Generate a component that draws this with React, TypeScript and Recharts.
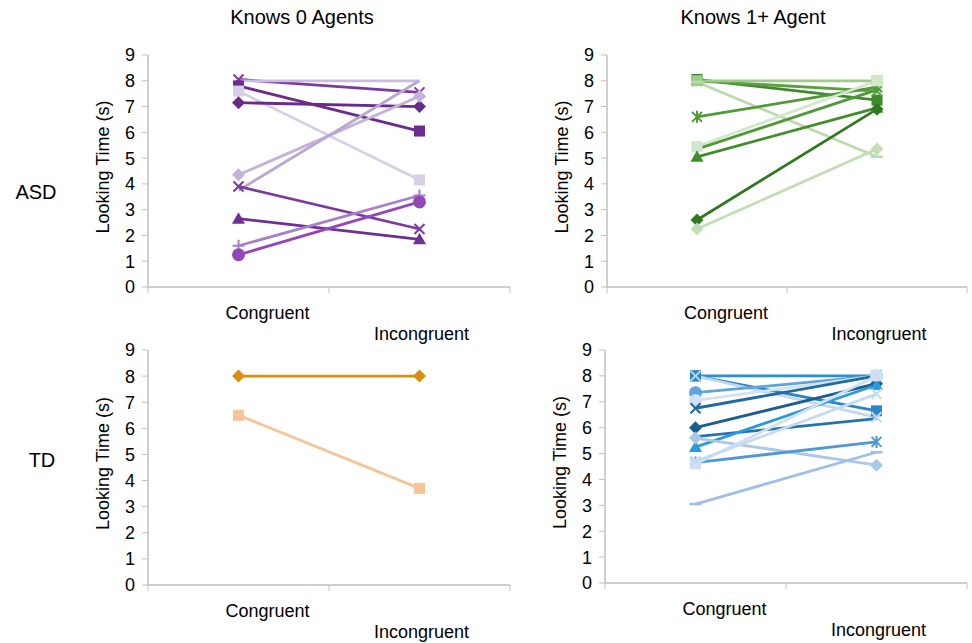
import React from "react";
import { LineChart, Line, XAxis, YAxis } from "recharts";

const categories = ["Congruent", "Incongruent"];
const yTicks = [0, 1, 2, 3, 4, 5, 6, 7, 8, 9];

// ASD, knows 0 agents
const asdZeroCongruent = [8.05, 8.0, 7.8, 7.6, 7.15, 4.35, 3.75, 3.9, 2.65, 1.6, 1.25];
const asdZeroIncongruent = [7.55, 8.0, 6.05, 4.15, 7.0, 7.4, 8.0, 2.25, 1.85, 3.55, 3.3];

// ASD, knows 1+ agent
const asdOneCongruent = [8.05, 8.0, 8.0, 7.95, 6.6, 5.45, 5.35, 5.05, 2.6, 2.25];
const asdOneIncongruent = [7.25, 7.6, 8.0, 5.05, 7.75, 8.0, 7.65, 6.95, 6.9, 5.35];

// TD, knows 0 agents
const tdZeroCongruent = [8.0, 6.5];
const tdZeroIncongruent = [8.0, 3.7];

// TD, knows 1+ agent
const tdOneCongruent = [8.0, 8.0, 8.0, 7.35, 7.05, 6.75, 6.0, 5.65, 5.25, 5.6, 4.65, 4.6, 4.7, 3.05];
const tdOneIncongruent = [8.0, 6.65, 6.4, 8.0, 8.0, 8.0, 7.7, 6.35, 7.65, 4.55, 5.45, 8.0, 7.3, 5.05];

const purpleColors = ["#7a3a9e", "#cbbcdd", "#6e2b8e", "#d8cfe6", "#6a2a8a", "#c4b2d8", "#bba6d2", "#7b3aa0", "#6f2f94", "#a87fca", "#9447b8"];
const purpleShapes = ["x", "none", "square", "square", "diamond", "diamond", "none", "x", "triangle", "plus", "circle"];

const greenColors = ["#3f8a2c", "#5aa040", "#9fcb8c", "#bcdab0", "#4e9a35", "#d3e7ca", "#4f9a36", "#3e8e2a", "#2f7a1f", "#c3deb6"];
const greenShapes = ["square", "x", "square", "dash", "star", "square", "none", "triangle", "diamond", "diamond"];

const orangeColors = ["#d98e12", "#f6c497"];
const orangeShapes = ["diamond", "square"];

const blueColors = ["#2a8fd6", "#2a86c8", "#c0d7ee", "#5ea3dc", "#d2e2f3", "#1f6a9e", "#1b5e8c", "#2473b0", "#2b9ad8", "#a9c8e9", "#4f98d6", "#cfe0f2", "#c5dbf0", "#9dc0e6"];
const blueShapes = ["square", "square", "x", "circle", "circle", "x", "diamond", "none", "triangle", "diamond", "star", "square", "x", "dash"];

const FONT = '"Liberation Sans", Arial, sans-serif';
const AXIS = "#bfbfbf";

const buildRows = (cong: number[], incong: number[]) =>
  categories.map((c, i) => {
    const row: Record<string, number | string> = { x: i + 0.5, cat: c };
    const vals = i === 0 ? cong : incong;
    vals.forEach((v, k) => {
      row[`s${k}`] = v;
    });
    return row;
  });

const Marker = (props: any) => {
  const { cx, cy, shape, color } = props;
  if (cx == null || cy == null) return <g />;
  switch (shape) {
    case "square":
      return <rect x={cx - 5.5} y={cy - 5.5} width={11} height={11} fill={color} />;
    case "diamond":
      return <polygon points={`${cx},${cy - 6.5} ${cx + 6.5},${cy} ${cx},${cy + 6.5} ${cx - 6.5},${cy}`} fill={color} />;
    case "triangle":
      return <polygon points={`${cx},${cy - 6.5} ${cx + 6.5},${cy + 5} ${cx - 6.5},${cy + 5}`} fill={color} />;
    case "circle":
      return <circle cx={cx} cy={cy} r={6.5} fill={color} />;
    case "x":
      return (
        <path d={`M${cx - 5},${cy - 5}L${cx + 5},${cy + 5}M${cx - 5},${cy + 5}L${cx + 5},${cy - 5}`} stroke={color} strokeWidth={2} />
      );
    case "star":
      return (
        <path
          d={`M${cx - 5},${cy - 5}L${cx + 5},${cy + 5}M${cx - 5},${cy + 5}L${cx + 5},${cy - 5}M${cx},${cy - 6}L${cx},${cy + 6}`}
          stroke={color}
          strokeWidth={2}
        />
      );
    case "plus":
      return <path d={`M${cx - 6},${cy}L${cx + 6},${cy}M${cx},${cy - 6}L${cx},${cy + 6}`} stroke={color} strokeWidth={2} />;
    case "dash":
      return <path d={`M${cx - 6},${cy}L${cx + 6},${cy}`} stroke={color} strokeWidth={2.5} />;
    default:
      return <g />;
  }
};

const XTick = (props: any) => {
  const { x, y, payload } = props;
  const v = payload.value;
  if (Number.isInteger(v)) {
    return <line x1={x} y1={y} x2={x} y2={y + 6} stroke={AXIS} strokeWidth={1} />;
  }
  const idx = Math.floor(v);
  const dx = idx === 0 ? 29 : 2;
  const dy = idx === 0 ? 32 : 53;
  return (
    <text x={x + dx} y={y + dy} textAnchor="middle" fill="#000" fontSize={18} fontFamily={FONT}>
      {categories[idx]}
    </text>
  );
};

const YTitle = (props: any) => {
  const vb = props.viewBox;
  if (!vb) return null;
  const cx = vb.x + 43;
  const cy = vb.y + vb.height / 2 - 4;
  return (
    <text
      x={cx}
      y={cy}
      transform={`rotate(-90 ${cx} ${cy})`}
      textAnchor="middle"
      dominantBaseline="central"
      fill="#000"
      fontSize={18}
      fontFamily={FONT}
    >
      Looking Time (s)
    </text>
  );
};

type PanelProps = {
  left: number;
  top: number;
  width: number;
  height: number;
  cong: number[];
  incong: number[];
  colors: string[];
  shapes: string[];
};

const Panel = ({ left, top, width, height, cong, incong, colors, shapes }: PanelProps) => {
  const rows = buildRows(cong, incong);
  return (
    <div style={{ position: "absolute", left, top }}>
      <LineChart width={width} height={height} data={rows} margin={{ top: 15, right: 5, left: 0, bottom: 0 }}>
        <XAxis
          dataKey="x"
          type="number"
          domain={[0, 2]}
          ticks={[0, 0.5, 1, 1.5, 2]}
          tickLine={false}
          tickSize={0}
          tickMargin={0}
          height={60}
          axisLine={{ stroke: AXIS, strokeWidth: 1.5 }}
          tick={<XTick />}
          interval={0}
        />
        <YAxis
          type="number"
          domain={[0, 9]}
          ticks={yTicks}
          width={88}
          interval={0}
          tickSize={6}
          tickMargin={7}
          axisLine={{ stroke: AXIS, strokeWidth: 1.5 }}
          tickLine={{ stroke: AXIS }}
          tick={{ fill: "#000", fontSize: 18, fontFamily: FONT }}
          label={<YTitle />}
        />
        {cong.map((_, k) => (
          <Line
            key={k}
            type="linear"
            dataKey={`s${k}`}
            stroke={colors[k]}
            strokeWidth={2.8}
            isAnimationActive={false}
            activeDot={false}
            dot={(p: any) => <Marker key={`m${k}-${p.index}`} cx={p.cx} cy={p.cy} shape={shapes[k]} color={colors[k]} />}
          />
        ))}
      </LineChart>
    </div>
  );
};

const textStyle: React.CSSProperties = {
  position: "absolute",
  fontFamily: FONT,
  fontSize: 20,
  lineHeight: "20px",
  color: "#000",
  textAlign: "center",
  whiteSpace: "nowrap",
};

export default function App() {
  return (
    <div style={{ position: "absolute", left: 0, top: 0, width: 972, height: 643, background: "#fff", overflow: "hidden" }}>
      <div style={{ ...textStyle, left: 202, top: 7, width: 200 }}>Knows 0 Agents</div>
      <div style={{ ...textStyle, left: 653, top: 7, width: 200 }}>Knows 1+ Agent</div>
      <div style={{ ...textStyle, left: 0, top: 182, width: 72 }}>ASD</div>
      <div style={{ ...textStyle, left: 6, top: 450, width: 72 }}>TD</div>

      <Panel left={60} top={40} width={455} height={307} cong={asdZeroCongruent} incong={asdZeroIncongruent} colors={purpleColors} shapes={purpleShapes} />
      <Panel left={519} top={40} width={453} height={307} cong={asdOneCongruent} incong={asdOneIncongruent} colors={greenColors} shapes={greenShapes} />
      <Panel left={60} top={335} width={455} height={310} cong={tdZeroCongruent} incong={tdZeroIncongruent} colors={orangeColors} shapes={orangeShapes} />
      <Panel left={517} top={335} width={455} height={308} cong={tdOneCongruent} incong={tdOneIncongruent} colors={blueColors} shapes={blueShapes} />
    </div>
  );
}
